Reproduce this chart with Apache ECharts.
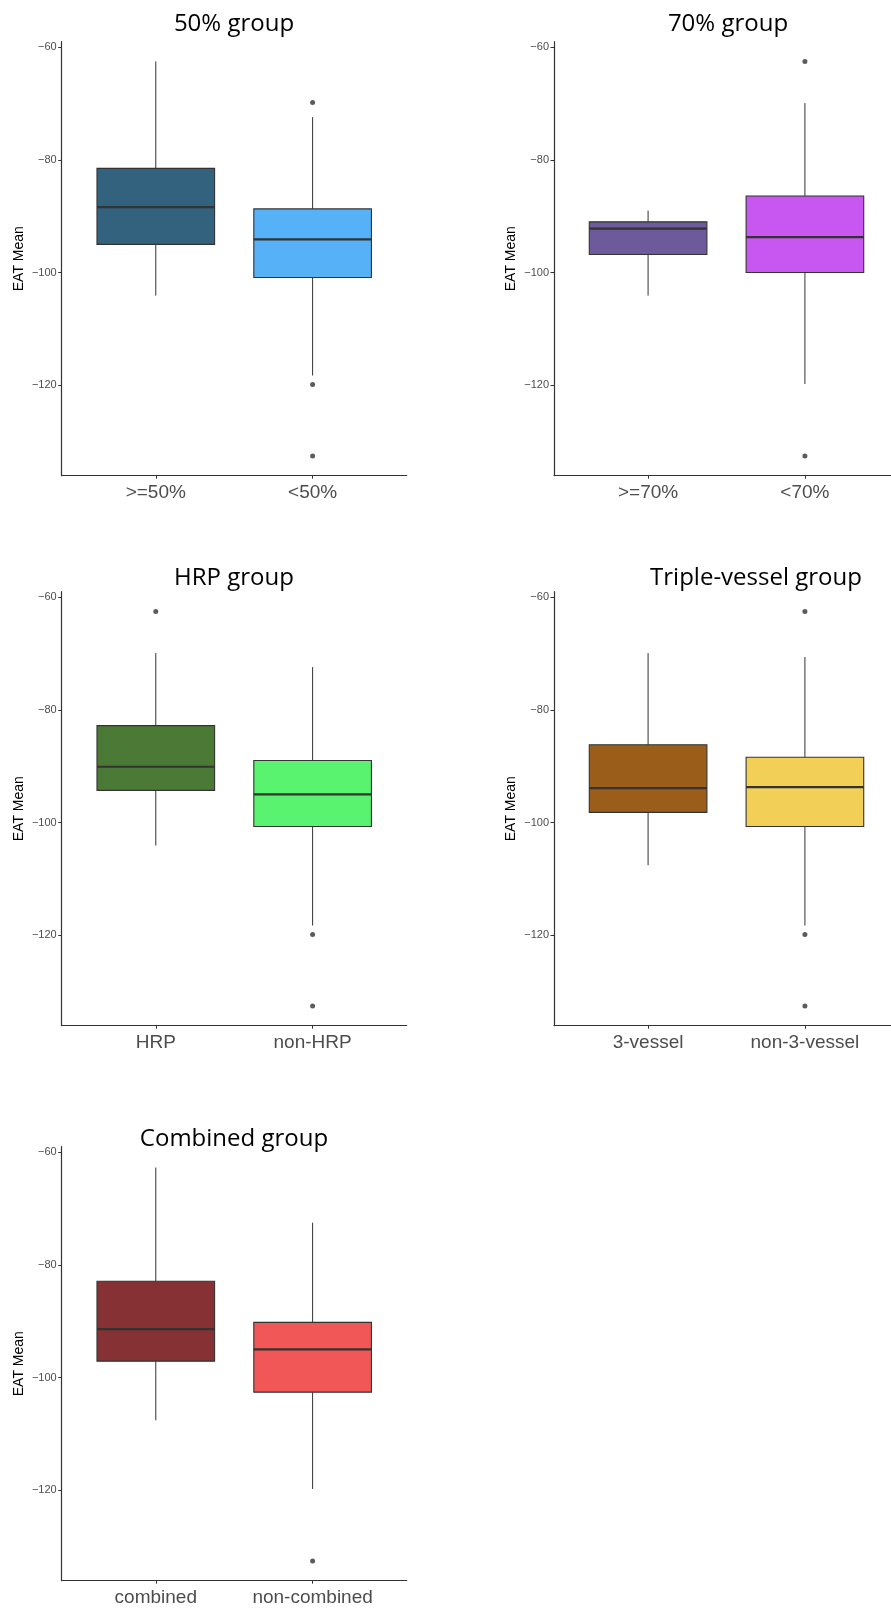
<!DOCTYPE html>
<html>
<head>
<meta charset="utf-8">
<title>EAT Mean by group</title>
<script src="https://cdn.jsdelivr.net/npm/echarts@6/dist/echarts.min.js"></script>
<style>
  html, body { margin: 0; padding: 0; background: #fff; }
  #chart { width: 891px; height: 1611px; }
</style>
</head>
<body>
<div id="chart"></div>
<script>
// box stats per category: [lower whisker, Q1, median, Q3, upper whisker]
const titles = ['50% group', '70% group', 'HRP group', 'Triple-vessel group', 'Combined group']

const categories50 = ['>=50%', '<50%']
const stats50 = [
  [-104.1, -95.0, -88.4, -81.5, -62.5],
  [-118.3, -100.9, -94.1, -88.7, -72.4]
]
const outliers50 = [[2, -69.8], [2, -119.9], [2, -132.6]]

const categories70 = ['>=70%', '<70%']
const stats70 = [
  [-104.1, -96.8, -92.2, -91.0, -89.0],
  [-119.8, -100.0, -93.7, -86.4, -69.9]
]
const outliers70 = [[2, -62.5], [2, -132.6]]

const categoriesHrp = ['HRP', 'non-HRP']
const statsHrp = [
  [-104.1, -94.3, -90.1, -82.8, -69.9],
  [-118.3, -100.7, -95.0, -89.0, -72.4]
]
const outliersHrp = [[1, -62.5], [2, -119.9], [2, -132.6]]

const categoriesVessel = ['3-vessel', 'non-3-vessel']
const statsVessel = [
  [-107.6, -98.2, -93.9, -86.2, -69.9],
  [-118.3, -100.7, -93.7, -88.4, -70.6]
]
const outliersVessel = [[2, -62.5], [2, -119.9], [2, -132.6]]

const categoriesCombined = ['combined', 'non-combined']
const statsCombined = [
  [-107.6, -97.1, -91.4, -82.9, -62.7],
  [-119.8, -102.6, -95.0, -90.2, -72.5]
]
const outliersCombined = [[2, -132.6]]

const yTicks = [-60, -80, -100, -120]

const panels = [
  { categories: categories50, stats: stats50, outliers: outliers50, colors: ['#33627e', '#56b1f7'], left: 61.7, top: 41.7, titleX: 234, titleY: 31.7 },
  { categories: categories70, stats: stats70, outliers: outliers70, colors: ['#6d5a9b', '#c856f1'], left: 554, top: 41.7, titleX: 728, titleY: 31.7 },
  { categories: categoriesHrp, stats: statsHrp, outliers: outliersHrp, colors: ['#4b7a37', '#5af36f'], left: 61.7, top: 591.7, titleX: 234, titleY: 586 },
  { categories: categoriesVessel, stats: statsVessel, outliers: outliersVessel, colors: ['#9a5e1a', '#f2d058'], left: 554, top: 591.7, titleX: 756, titleY: 586 },
  { categories: categoriesCombined, stats: statsCombined, outliers: outliersCombined, colors: ['#863235', '#f25758'], left: 61.7, top: 1146.7, titleX: 234, titleY: 1146.7 }
]

const PANEL_W = 345
const PANEL_H = 434
const BOX_WIDTH = 0.75
const LINE = '#333333'
const minus = v => String(v).replace('-', '\u2212')

function renderBox(colors) {
  return function (params, api) {
    const x = api.value(0)
    const lo = api.coord([x, api.value(1)])
    const q1 = api.coord([x, api.value(2)])
    const md = api.coord([x, api.value(3)])
    const q3 = api.coord([x, api.value(4)])
    const hi = api.coord([x, api.value(5)])
    const half = api.size([BOX_WIDTH, 0])[0] / 2
    return {
      type: 'group',
      children: [
        { type: 'line', shape: { x1: lo[0], y1: lo[1], x2: q1[0], y2: q1[1] }, style: { stroke: LINE, lineWidth: 1 } },
        { type: 'line', shape: { x1: q3[0], y1: q3[1], x2: hi[0], y2: hi[1] }, style: { stroke: LINE, lineWidth: 1 } },
        {
          type: 'rect',
          shape: { x: q3[0] - half, y: q3[1], width: half * 2, height: q1[1] - q3[1] },
          style: { fill: colors[params.dataIndex], stroke: LINE, lineWidth: 1.1 }
        },
        { type: 'line', shape: { x1: md[0] - half, y1: md[1], x2: md[0] + half, y2: md[1] }, style: { stroke: LINE, lineWidth: 2.2 } }
      ]
    }
  }
}

const grid = []
const xAxis = []
const yAxis = []
const series = []
const graphic = []

panels.forEach((p, i) => {
  grid.push({ left: p.left, top: p.top, width: PANEL_W, height: PANEL_H, outerBoundsMode: 'none', containLabel: false })

  xAxis.push({
    gridIndex: i,
    type: 'value',
    min: 0.4,
    max: 2.6,
    splitLine: { show: false },
    axisLine: { show: true, lineStyle: { color: LINE, width: 1.2 } },
    axisTick: { show: true, customValues: [1, 2], length: 3, lineStyle: { color: LINE } },
    axisLabel: {
      customValues: [1, 2],
      formatter: v => p.categories[Math.round(v) - 1],
      color: '#4d4d4d',
      fontSize: 19,
      fontFamily: 'Liberation Sans',
      margin: 8
    }
  })

  yAxis.push({
    gridIndex: i,
    type: 'value',
    min: -136.1,
    max: -59.0,
    name: 'EAT Mean',
    nameLocation: 'middle',
    nameGap: 36,
    nameTextStyle: { color: '#000', fontSize: 14, fontFamily: 'Liberation Sans' },
    splitLine: { show: false },
    axisLine: { show: true, lineStyle: { color: LINE, width: 1.2 } },
    axisTick: { show: true, customValues: yTicks, length: 3.5, lineStyle: { color: LINE } },
    axisLabel: {
      customValues: yTicks,
      formatter: minus,
      color: '#4d4d4d',
      fontSize: 11,
      fontFamily: 'Liberation Sans',
      margin: 5
    }
  })

  series.push({
    type: 'custom',
    xAxisIndex: i,
    yAxisIndex: i,
    encode: { x: 0, y: [1, 2, 3, 4, 5] },
    renderItem: renderBox(p.colors),
    data: p.stats.map((s, k) => [k + 1].concat(s)),
    silent: true
  })

  series.push({
    type: 'scatter',
    xAxisIndex: i,
    yAxisIndex: i,
    symbolSize: 5,
    itemStyle: { color: LINE },
    data: p.outliers,
    silent: true
  })

  graphic.push({
    type: 'text',
    x: p.titleX,
    y: p.titleY - 8,
    style: {
      text: titles[i],
      font: '24px "Open Sans"',
      fill: '#000',
      textAlign: 'center',
      textVerticalAlign: 'middle'
    }
  })
})

const chart = echarts.init(document.getElementById('chart'))
chart.setOption({
  animation: false,
  backgroundColor: '#fff',
  grid,
  xAxis,
  yAxis,
  series,
  graphic
})
window.addEventListener('resize', () => chart.resize())
</script>
</body>
</html>
